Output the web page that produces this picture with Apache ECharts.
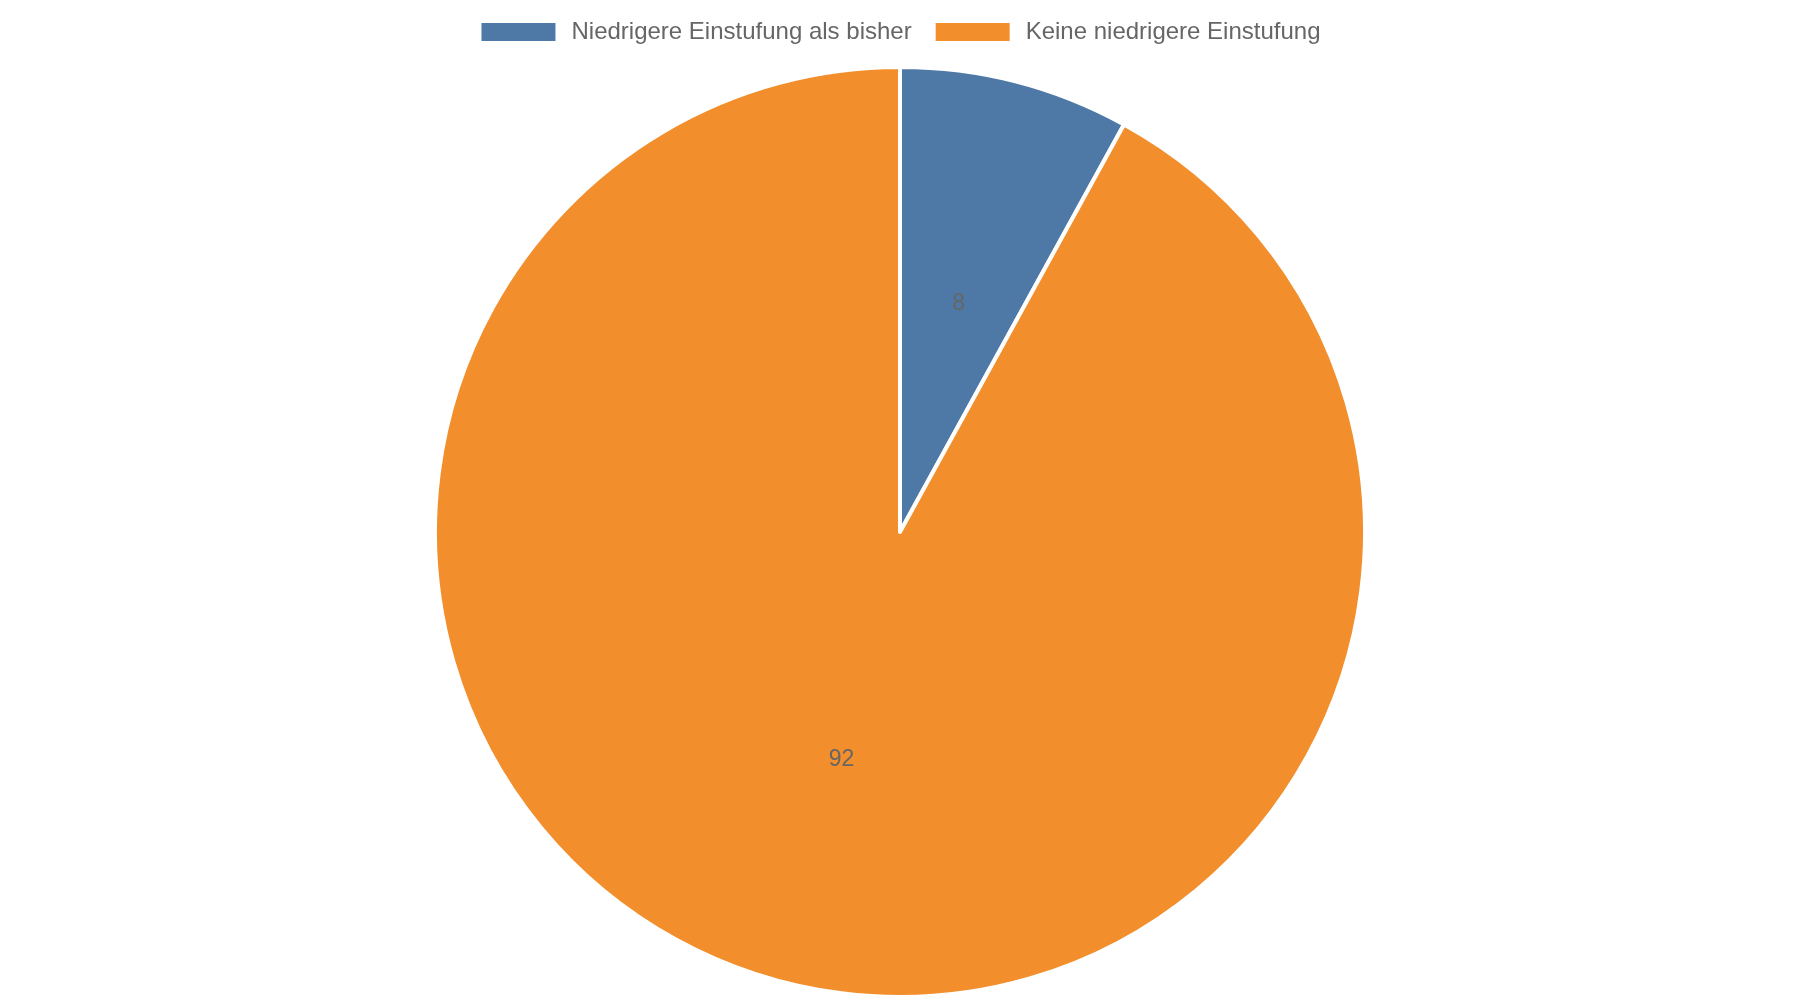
<!DOCTYPE html>
<html>
<head>
<meta charset="utf-8">
<script src="https://cdn.jsdelivr.net/npm/echarts@6/dist/echarts.min.js"></script>
<style>html,body{margin:0;padding:0;background:#fff;}#c{width:1800px;height:1000px;}</style>
</head>
<body>
<div id="c"></div>
<script>
const categories = ['Niedrigere Einstufung als bisher', 'Keine niedrigere Einstufung'];
const values = [8, 92];
const colors = ['#4e79a7', '#f28e2b'];

const chart = echarts.init(document.getElementById('c'), null, {renderer: 'canvas'});
chart.setOption({
  animation: false,
  color: colors,
  textStyle: {fontFamily: 'Liberation Sans, Arial, sans-serif'},
  legend: {
    top: 15,
    left: 'center',
    itemWidth: 76,
    itemHeight: 20,
    itemGap: 22,
    icon: 'rect',
    textStyle: {
      fontSize: 24,
      lineHeight: 24,
      color: '#666',
      padding: [0, 0, 0, 10],
      fontFamily: 'Liberation Sans, Arial, sans-serif'
    },
    data: categories
  },
  series: [{
    type: 'pie',
    center: [900, 532],
    radius: [0, 465],
    startAngle: 90,
    clockwise: true,
    itemStyle: {borderColor: '#fff', borderWidth: 4},
    label: {
      show: true,
      position: 'inside',
      formatter: '{c}',
      fontSize: 23,
      color: '#666',
      fontFamily: 'Liberation Sans, Arial, sans-serif'
    },
    labelLine: {show: false},
    emphasis: {disabled: true},
    data: categories.map((n, i) => ({name: n, value: values[i]}))
  }]
});
</script>
</body>
</html>
